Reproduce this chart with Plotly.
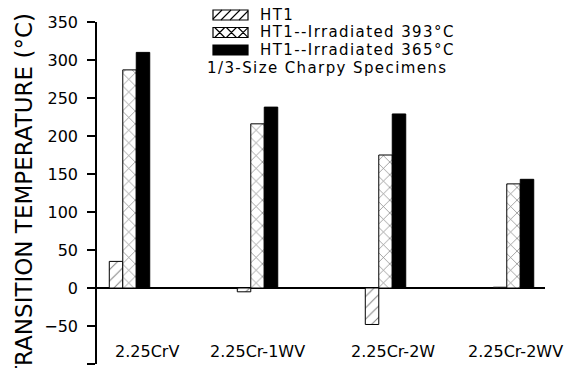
import plotly.graph_objects as go

# ---- data ----
categories = ["2.25CrV", "2.25Cr-1WV", "2.25Cr-2W", "2.25Cr-2WV"]
ht1 = [35, -5, -48, 1]
irr_393 = [287, 216, 175, 137]
irr_365 = [310, 238, 229, 143]
series_names = ["HT1", "HT1--Irradiated 393°C", "HT1--Irradiated 365°C"]
y_ticks = [350, 300, 250, 200, 150, 100, 50, 0, -50, -100]
note_text = "1/3-Size Charpy Specimens"
y_title = "TRANSITION TEMPERATURE (°C)"

FONT = "DejaVu Sans"
W, H = 571, 368
ML, MR, MT, MB = 97, 26, 22, 4
PW, PH = W - ML - MR, H - MT - MB

def pxx(x):
    return (x - ML) / PW

def pxy(y):
    return (H - MB - y) / PH

def spaced(t, ls):
    return f'<span style="letter-spacing:{ls}px">{t}</span>'

xpos = list(range(len(categories)))

fig = go.Figure()
fig.add_trace(go.Bar(
    x=xpos, y=ht1, name=series_names[0],
    marker=dict(color="white", line=dict(color="black", width=1),
                pattern=dict(shape="/", fgcolor="black", bgcolor="white", size=8, solidity=0.12)),
))
fig.add_trace(go.Bar(
    x=xpos, y=irr_393, name=series_names[1],
    marker=dict(color="white", line=dict(color="black", width=1),
                pattern=dict(shape="x", fgcolor="black", bgcolor="white", size=9, solidity=0.15)),
))
fig.add_trace(go.Bar(
    x=xpos, y=irr_365, name=series_names[2],
    marker=dict(color="black", line=dict(color="black", width=1)),
))

# ---- manual legend (swatches drawn as decoration shapes) ----
sw_x0, sw_x1, sw_h = 213, 248, 10
row_y = [15, 32.5, 50]
text_x = 258
note_y = 67.5
note_x = 205
LEG_FS = 15
LEG_LS = 1.4

def diag_segments(x0, x1, y0, y1, step, direction):
    segs = []
    h = y1 - y0
    k = x0 - h
    while k < x1 + h:
        ax, bx = k, k + h
        if direction == 1:
            ay, by = y1, y0
        else:
            ay, by = y0, y1
        t0 = max(0.0, (x0 - ax) / (bx - ax))
        t1 = min(1.0, (x1 - ax) / (bx - ax))
        if t1 > t0:
            sx, sy = ax + (bx - ax) * t0, ay + (by - ay) * t0
            ex, ey = ax + (bx - ax) * t1, ay + (by - ay) * t1
            segs.append((sx, sy, ex, ey))
        k += step
    return segs

def seg_path(segs):
    return " ".join(f"M{pxx(a):.5f},{pxy(b):.5f} L{pxx(c):.5f},{pxy(d):.5f}" for a, b, c, d in segs)

shapes = []
for i, cy in enumerate(row_y):
    y0, y1 = cy - sw_h / 2, cy + sw_h / 2
    fill = "black" if i == 2 else "white"
    shapes.append(dict(type="rect", xref="paper", yref="paper",
                       x0=pxx(sw_x0), x1=pxx(sw_x1), y0=pxy(y1), y1=pxy(y0),
                       fillcolor=fill, line=dict(color="black", width=1.2), layer="above"))
    if i == 0:
        segs = diag_segments(sw_x0, sw_x1, y0, y1, 9, 1)
    elif i == 1:
        segs = diag_segments(sw_x0, sw_x1, y0, y1, 11.7, 1) + diag_segments(sw_x0, sw_x1, y0, y1, 11.7, -1)
    else:
        segs = []
    if segs:
        shapes.append(dict(type="path", xref="paper", yref="paper", path=seg_path(segs),
                           line=dict(color="black", width=1.1), layer="above"))

annotations = []
for i, name in enumerate(series_names):
    annotations.append(dict(x=pxx(text_x), y=pxy(row_y[i]), xref="paper", yref="paper",
                            text=spaced(name, LEG_LS),
                            showarrow=False, xanchor="left", yanchor="middle",
                            font=dict(family=FONT, size=LEG_FS, color="black")))
annotations.append(dict(x=pxx(note_x), y=pxy(note_y), xref="paper", yref="paper",
                        text=spaced(note_text, LEG_LS),
                        showarrow=False, xanchor="left", yanchor="middle",
                        font=dict(family=FONT, size=LEG_FS, color="black")))

label_shift = [17, 0, 7, 2]
for i, c in enumerate(categories):
    annotations.append(dict(x=xpos[i], y=-84, xref="x", yref="y", text=c, showarrow=False,
                            xshift=label_shift[i], font=dict(family=FONT, size=16, color="black")))
annotations.append(dict(x=pxx(24), y=0.5, xref="paper", yref="paper", text=y_title,
                        showarrow=False, textangle=-90, xanchor="center", yanchor="middle", yshift=-4,
                        font=dict(family=FONT, size=23, color="black")))

fig.update_layout(
    width=W, height=H,
    margin=dict(l=ML, r=MR, t=MT, b=MB),
    plot_bgcolor="white", paper_bgcolor="white",
    barmode="group", bargap=0.684, bargroupgap=0,
    font=dict(family=FONT, size=16, color="black"),
    showlegend=False,
    annotations=annotations,
    shapes=shapes,
    xaxis=dict(range=[-0.254, 3.246], showgrid=False, showticklabels=False,
               zeroline=False, showline=False, ticks=""),
    yaxis=dict(range=[-100, 350], tickvals=y_ticks, ticks="outside", ticklen=8,
               tickwidth=1.5, tickcolor="black", showline=True, linewidth=1.5,
               linecolor="black", showgrid=False, zeroline=True, zerolinecolor="black",
               zerolinewidth=1.5, ticklabelstandoff=6,
               tickfont=dict(family=FONT, size=16, color="black")),
)

fig.write_html("out.html")
